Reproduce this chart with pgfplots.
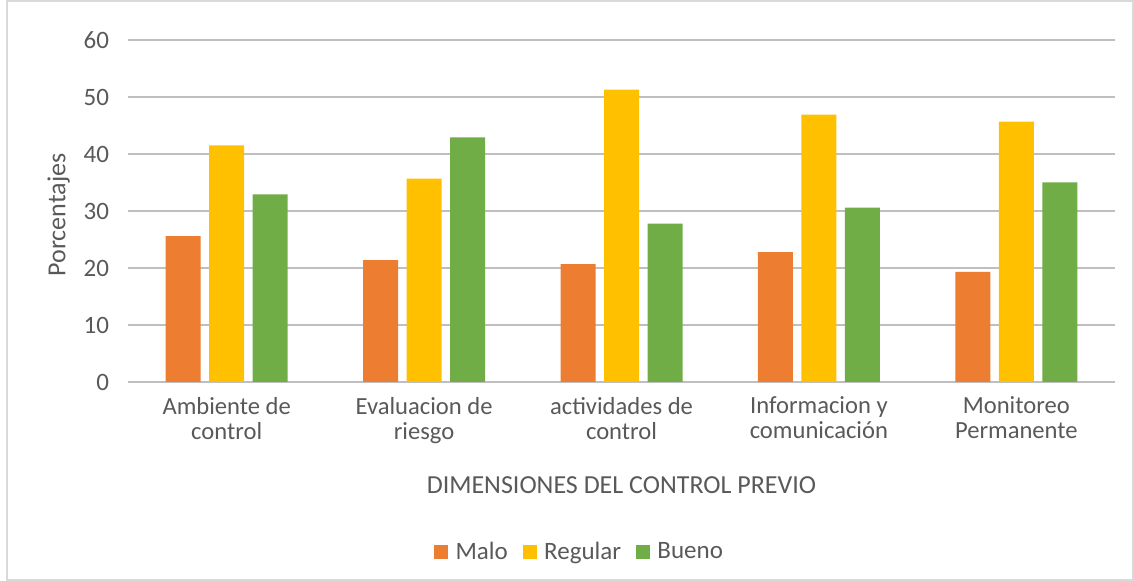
\documentclass[border=0pt]{standalone}
\usepackage{pgfplots}
\pgfplotsset{compat=1.18}
\usepackage{fontspec}
\setmainfont{Carlito}
\definecolor{malo}{HTML}{ED7D31}
\definecolor{regular}{HTML}{FFC000}
\definecolor{bueno}{HTML}{70AD47}
\definecolor{txt}{HTML}{595959}
\definecolor{grid}{HTML}{D9D9D9}
\begin{document}
\begin{tikzpicture}
\useasboundingbox (0,0) rectangle (567pt,290.5pt);
\draw[grid, line width=0.8pt] (3.5pt,0.5pt) rectangle (566.5pt,290pt);
\begin{axis}[
  at={(64pt,99.5pt)}, anchor=south west,
  scale only axis, width=493.5pt, height=171pt,
  ybar=4.25pt, bar width=17.5pt,
  xmin=-0.5, xmax=4.5, ymin=0, ymax=60,
  xtick={0,1,2,3,4},
  xticklabels={{Ambiente de\\control},{Evaluacion de\\riesgo},{actividades de\\control},{Informacion y\\comunicación},{Monitoreo\\Permanente}},
  xticklabel style={align=center, text=txt, font=\fontsize{12.3}{12.5}\selectfont, yshift=-4pt},
  ytick={0,10,...,60},
  yticklabel style={text=txt, font=\fontsize{12.5}{13}\selectfont, xshift=-6pt},
  /pgf/number format/assume math mode=true,
  ymajorgrids, xmajorgrids=false, grid style={grid, line width=0.8pt},
  axis line style={draw=none},
  major tick length=0pt,
  ylabel={Porcentajes},
  ylabel style={text=txt, font=\fontsize{13}{14}\selectfont, at={(ticklabel cs:0.5)}, xshift=-2pt},
  xlabel={DIMENSIONES DEL CONTROL PREVIO},
  xlabel style={text=txt, font=\fontsize{13}{14}\selectfont, yshift=-10pt},
  legend columns=3,
  legend style={draw=none, fill=none, at={(0.458,-0.497)}, anchor=center,
    font=\fontsize{12.5}{14}\selectfont, text=txt,
    nodes={inner xsep=1.5pt},
    /tikz/every odd column/.append style={column sep=2.2pt},
    /tikz/every even column/.append style={column sep=6pt}},
  legend image code/.code={\fill[#1] (0pt,-3.5pt) rectangle (7pt,3.5pt);},
]
\addplot[fill=malo, draw=none] coordinates {(0,25.6) (1,21.4) (2,20.7) (3,22.8) (4,19.3)};
\addplot[fill=regular, draw=none] coordinates {(0,41.5) (1,35.7) (2,51.3) (3,46.9) (4,45.7)};
\addplot[fill=bueno, draw=none] coordinates {(0,32.9) (1,42.9) (2,27.8) (3,30.6) (4,35.0)};
\legend{Malo,Regular,Bueno}
\end{axis}
\end{tikzpicture}
\end{document}
